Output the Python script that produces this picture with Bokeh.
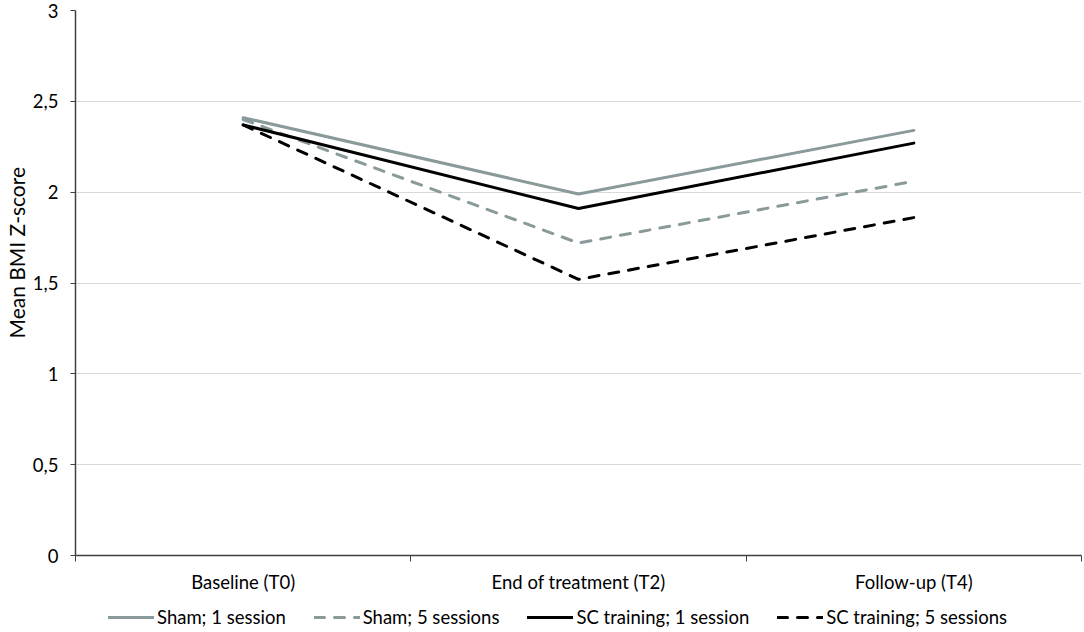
from bokeh.plotting import figure
from bokeh.models import FixedTicker, Legend, LegendItem, Range1d, Title
from bokeh.layouts import column
from bokeh.embed import file_html
from bokeh.resources import INLINE

categories = ["Baseline (T0)", "End of treatment (T2)", "Follow-up (T4)"]
sham_1 = [2.41, 1.99, 2.34]
sham_5 = [2.40, 1.72, 2.06]
sc_1 = [2.37, 1.91, 2.27]
sc_5 = [2.37, 1.52, 1.86]
y_ticks = [0, 0.5, 1, 1.5, 2, 2.5, 3]
y_tick_labels = ["0", "0,5", "1", "1,5", "2", "2,5", "3"]
y_title = "Mean BMI Z-score"

FONT = "Lato"
GRAY = "#8a9999"

xs = [i + 0.5 for i in range(len(categories))]

p = figure(width=1084, height=600, output_backend="svg", toolbar_location=None,
           x_range=Range1d(0, len(categories)), y_range=Range1d(0, 3),
           min_border_left=72, min_border_right=3, min_border_top=10, min_border_bottom=45)
p.outline_line_color = None

series = [
    ("Sham; 1 session", sham_1, GRAY, "solid"),
    ("Sham; 5 sessions", sham_5, GRAY, "10 10"),
    ("SC training; 1 session", sc_1, "black", "solid"),
    ("SC training; 5 sessions", sc_5, "black", "10 10"),
]
for name, ys, col, dash in series:
    p.line(xs, ys, line_color=col, line_width=3, line_dash=dash, line_cap="round")

# x axis
p.xaxis.ticker = FixedTicker(ticks=xs, minor_ticks=list(range(len(categories) + 1)))
p.xaxis.major_label_overrides = {x: c for x, c in zip(xs, categories)}
p.xaxis.major_tick_out = 0
p.xaxis.major_tick_in = 0
p.xaxis.minor_tick_out = 6
p.xaxis.minor_tick_in = 0
p.xaxis.minor_tick_line_color = "#404040"
p.xaxis.axis_line_color = "#404040"
p.xaxis.axis_line_width = 1.5
p.xaxis.major_label_text_font = FONT
p.xaxis.major_label_text_font_size = "18.5px"
p.xaxis.major_label_text_color = "black"
p.xaxis.major_label_standoff = 9
p.xgrid.grid_line_color = None

# y axis
p.yaxis.ticker = FixedTicker(ticks=y_ticks, minor_ticks=[])
p.yaxis.major_label_overrides = {t: l for t, l in zip(y_ticks, y_tick_labels)}
p.yaxis.major_tick_out = 5
p.yaxis.major_tick_in = 0
p.yaxis.major_tick_line_color = "#404040"
p.yaxis.axis_line_color = "#404040"
p.yaxis.axis_line_width = 1.5
p.yaxis.major_label_text_font = FONT
p.yaxis.major_label_text_font_size = "18.5px"
p.yaxis.major_label_text_color = "black"
p.yaxis.major_label_standoff = 12
p.ygrid.grid_line_color = "#d9d9d9"
p.ygrid.grid_line_width = 1

ytitle = Title(text=y_title, align="left", offset=217, text_font=FONT,
               text_font_size="21px", text_font_style="normal", text_color="black",
               standoff=2)
p.add_layout(ytitle, "left")

# legend strip below the chart (series drawn out of view; only legend visible)
lg = figure(width=1084, height=32, output_backend="svg", toolbar_location=None,
            x_range=Range1d(0, len(categories)), y_range=Range1d(10, 11),
            x_axis_type=None, y_axis_type=None,
            min_border_left=0, min_border_right=0, min_border_top=0, min_border_bottom=0)
lg.outline_line_color = None
lg.grid.visible = False
items = []
for name, ys, col, dash in series:
    r = lg.line(xs, ys, line_color=col, line_width=3, line_dash=dash, line_cap="round")
    items.append(LegendItem(label=name, renderers=[r]))

legend = Legend(items=items, orientation="horizontal", location=(33, 4),
                label_text_font=FONT, label_text_font_size="18.5px",
                label_text_color="black",
                glyph_width=46, glyph_height=18, spacing=28, label_standoff=3,
                border_line_color=None, background_fill_alpha=0, margin=0, padding=0)
lg.add_layout(legend, "center")

layout = column(p, lg, spacing=0)
open("out.html", "w").write(file_html(layout, INLINE))
